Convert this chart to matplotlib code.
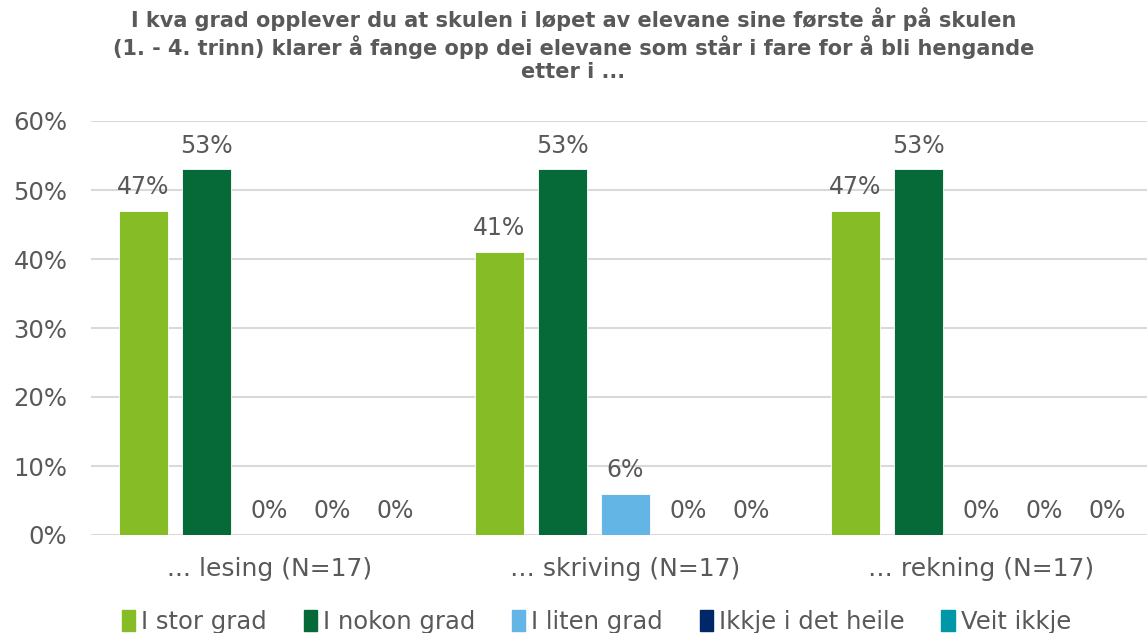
import matplotlib.pyplot as plt
import numpy as np
from matplotlib.patches import Patch

categories = ["... lesing (N=17)", "… skriving (N=17)", "… rekning (N=17)"]
series = ["I stor grad", "I nokon grad", "I liten grad", "Ikkje i det heile", "Veit ikkje"]
values = [
    [47, 41, 47],   # I stor grad
    [53, 53, 53],   # I nokon grad
    [0, 6, 0],      # I liten grad
    [0, 0, 0],      # Ikkje i det heile
    [0, 0, 0],      # Veit ikkje
]
colors = ["#86BC25", "#066A38", "#62B5E5", "#002868", "#0097A9"]
title = ("I kva grad opplever du at skulen i løpet av elevane sine første år på skulen\n"
         "(1. - 4. trinn) klarer å fange opp dei elevane som står i fare for å bli hengande\n"
         "etter i ...")

text_col = "#595959"
plt.rcParams['font.family'] = ['DejaVu Sans']

fig = plt.figure(figsize=(11.47, 6.33), dpi=100)
ax = fig.add_axes([91 / 1147, 98 / 633, (1147 - 91) / 1147, (535 - 121) / 633])

x = np.arange(len(categories))
step = 0.177
width = 0.138
for i, (name, vals) in enumerate(zip(series, values)):
    pos = x + (i - 2) * step
    ax.bar(pos, np.array(vals) / 100, width, color=colors[i], label=name,
           edgecolor="white", linewidth=0.6)
    for p, v in zip(pos, vals):
        ax.text(p, v / 100 + 0.017, f"{v}%", ha="center", va="bottom",
                fontsize=17, color=text_col)

ax.set_xlim(-0.501, 2.465)
ax.set_ylim(0, 0.6)
ax.set_yticks(np.arange(0, 0.61, 0.1))
ax.set_yticklabels([f"{int(round(t * 100))}%" for t in np.arange(0, 0.61, 0.1)],
                   fontsize=17.5, color=text_col)
ax.set_xticks(x)
ax.set_xticklabels(categories, fontsize=18, color=text_col)
ax.tick_params(axis="both", length=0)
ax.tick_params(axis="y", pad=17)
ax.tick_params(axis="x", pad=16)
ax.grid(axis="y", color="#D9D9D9", linewidth=1.5)
ax.set_axisbelow(True)
for s in ax.spines.values():
    s.set_visible(False)

fig.text(0.5, 0.988, title, ha="center", va="top", fontsize=15,
         fontweight="bold", color=text_col, linespacing=1.2)

handles = [Patch(color=c) for c in colors]
fig.legend(handles, series, loc="lower center", bbox_to_anchor=(0.52, -0.036), ncol=5,
           frameon=False, fontsize=17.5, handlelength=0.55, handleheight=0.9,
           handletextpad=0.25, columnspacing=1.5, labelcolor=text_col)

fig.savefig("out.png", dpi=100)
